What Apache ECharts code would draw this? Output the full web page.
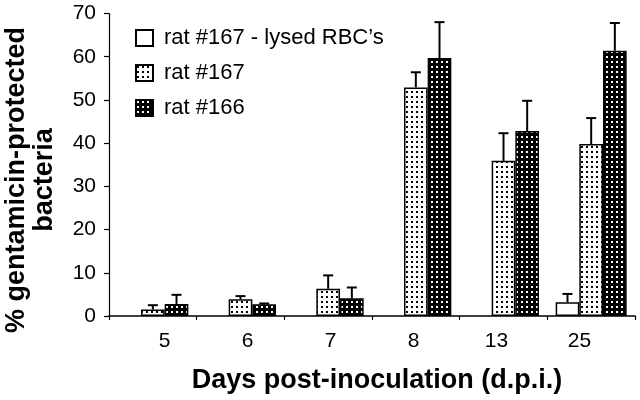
<!DOCTYPE html>
<html>
<head>
<meta charset="utf-8">
<script src="https://cdn.jsdelivr.net/npm/echarts@6/dist/echarts.min.js"></script>
<style>html,body{margin:0;padding:0;background:#fff}#c{width:640px;height:400px}</style>
</head>
<body>
<div id="c"></div>
<script>
const categories = ['5', '6', '7', '8', '13', '25'];
const lysed167 = [null, null, null, null, null, 3.2];
const rat167 = [1.5, 3.9, 6.3, 52.9, 35.9, 39.8];
const rat166 = [2.8, 2.7, 4.1, 59.7, 42.8, 61.4];
const lysed167Err = [null, null, null, null, null, 1.9];
const rat167Err = [1.0, 0.7, 3.1, 3.5, 6.4, 6.0];
const rat166Err = [2.1, 0.2, 2.5, 8.3, 7.0, 6.4];
const seriesNames = ["rat #167 - lysed RBC\u2019s", 'rat #167', 'rat #166'];

function makePattern(bg, fg, dot) {
  const c = document.createElement('canvas');
  c.width = 5; c.height = 5;
  const g = c.getContext('2d');
  g.fillStyle = bg; g.fillRect(0, 0, 5, 5);
  g.fillStyle = fg; g.fillRect(1, 1, dot[0], dot[1]);
  return { image: c, repeat: 'repeat' };
}
const pat167 = makePattern('#ffffff', '#000000', [2, 2]);
const pat166 = makePattern('#000000', '#ffffff', [2, 2]);

const GAP = 0.19;
const values = [lysed167, rat167, rat166];
const errs = [lysed167Err, rat167Err, rat166Err];
const errData = [];
values.forEach((arr, si) => arr.forEach((v, ci) => {
  if (v != null && errs[si][ci] != null) errData.push([ci, si, v, errs[si][ci]]);
}));

const chart = echarts.init(document.getElementById('c'), null, { renderer: 'canvas' });
const font = 'Liberation Sans, Arial, Helvetica, sans-serif';
chart.setOption({
  animation: false,
  textStyle: { fontFamily: font, color: '#000' },
  grid: [
    { left: 109, right: 5, top: 13.5, bottom: 84 },
    { left: 123, right: 19, top: 13.5, bottom: 84 }
  ],
  legend: {
    orient: 'vertical', left: 135, top: 27, padding: 0, itemWidth: 17, itemHeight: 16, itemGap: 13,
    icon: 'rect',
    textStyle: { fontSize: 22, color: '#000', fontFamily: font, padding: [0, 0, 0, 6] },
    data: seriesNames
  },
  xAxis: [
    {
      type: 'category', data: categories, gridIndex: 0,
      axisLine: { lineStyle: { color: '#000', width: 1.5 } },
      axisTick: { show: true, length: 4, lineStyle: { color: '#000', width: 1.2 } },
      axisLabel: { show: false }
    },
    {
      type: 'category', data: categories, gridIndex: 1,
      axisLine: { show: false }, axisTick: { show: false },
      axisLabel: { fontSize: 21, color: '#000', margin: 15, fontFamily: font }
    }
  ],
  yAxis: [
    {
      type: 'value', min: 0, max: 70, interval: 10, gridIndex: 0,
      axisLine: { show: true, lineStyle: { color: '#000', width: 1.2 } },
      axisTick: { show: true, length: 5, lineStyle: { color: '#000', width: 1.2 } },
      splitLine: { show: false },
      axisLabel: { fontSize: 21, color: '#000', margin: 13, fontFamily: font }
    },
    { type: 'value', gridIndex: 1, show: false, min: 0, max: 70 }
  ],
  graphic: [
    {
      type: 'text', x: 377, y: 381,
      style: { text: 'Days post-inoculation (d.p.i.)', font: 'bold 27px ' + font, fill: '#000', textAlign: 'center', textVerticalAlign: 'middle' }
    },
    {
      type: 'text', x: 31, y: 180, rotation: Math.PI / 2,
      style: { text: '% gentamicin-protected\nbacteria', font: 'bold 27px ' + font, lineHeight: 28, fill: '#000', textAlign: 'center', textVerticalAlign: 'middle' }
    }
  ],
  series: [
    {
      name: seriesNames[0], type: 'bar', data: lysed167, barGap: 0, barCategoryGap: (GAP * 100) + '%',
      itemStyle: { color: '#fff', borderColor: '#000', borderWidth: 1.5 }
    },
    {
      name: seriesNames[1], type: 'bar', data: rat167, barGap: 0, barCategoryGap: (GAP * 100) + '%',
      itemStyle: { color: pat167, borderColor: '#000', borderWidth: 1.5 }
    },
    {
      name: seriesNames[2], type: 'bar', data: rat166, barGap: 0, barCategoryGap: (GAP * 100) + '%',
      itemStyle: { color: pat166, borderColor: '#000', borderWidth: 1.5 }
    },
    {
      type: 'custom', data: errData, encode: { x: 0, y: 2 }, z: 5,
      renderItem: function (params, api) {
        const catW = api.size([1, 0])[0];
        const barW = catW * (1 - GAP) / 3;
        const base = api.coord([api.value(0), api.value(2)]);
        const top = api.coord([api.value(0), api.value(2) + api.value(3)]);
        const x = base[0] + (api.value(1) - 1) * barW;
        const st = { stroke: '#000', lineWidth: 2 };
        return {
          type: 'group', children: [
            { type: 'line', shape: { x1: x, y1: base[1], x2: x, y2: top[1] }, style: st },
            { type: 'line', shape: { x1: x - 5, y1: top[1], x2: x + 5, y2: top[1] }, style: st }
          ]
        };
      }
    }
  ]
});
</script>
</body>
</html>
